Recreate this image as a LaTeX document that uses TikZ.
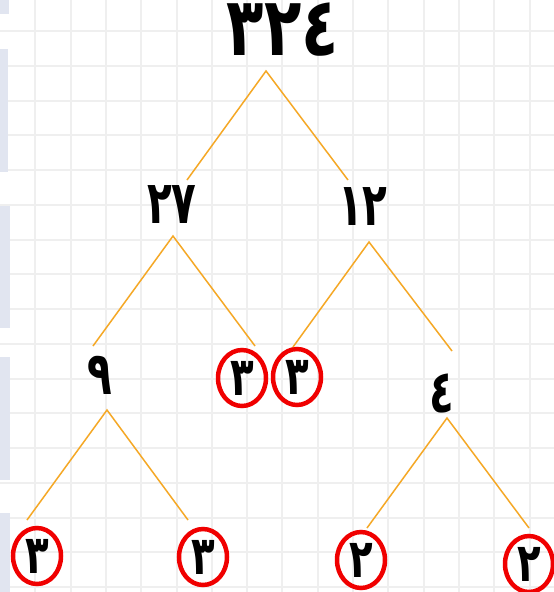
\documentclass[tikz,border=0pt]{standalone}
\usepackage{fontspec}
\usepackage{graphicx}
\usetikzlibrary{shapes.geometric}
\newfontfamily\arabicfont[Script=Arabic]{DejaVu Sans}
\definecolor{gridgray}{RGB}{239,239,239}
\definecolor{stripblue}{RGB}{225,229,240}
\definecolor{branch}{RGB}{245,168,38}
\definecolor{ringred}{RGB}{240,0,0}
\newcommand{\bigdig}[1]{\scalebox{0.9}[1.2]{#1}}
\newcommand{\middig}[1]{\scalebox{0.88}[1.3]{#1}}
\newcommand{\ringdig}[1]{\scalebox{0.88}[1.22]{#1}}
\tikzset{
  gridline/.style={draw=gridgray,line width=2pt},
  branchline/.style={draw=branch,line width=1.5pt},
  bignum/.style={inner sep=0pt,font=\arabicfont\bfseries\fontsize{68}{68}\selectfont},
  num/.style={inner sep=0pt,font=\arabicfont\bfseries\fontsize{46}{46}\selectfont},
  ring/.style={ellipse,draw=ringred,line width=4.5pt,minimum width=48pt,minimum height=56pt,inner sep=0pt,font=\arabicfont\bfseries\fontsize{44}{44}\selectfont}
}
\begin{document}
\begin{tikzpicture}[x=1pt,y=-1pt]
\useasboundingbox (0,0) rectangle (554,592);
\fill[white] (0,0) rectangle (554,592);
\foreach \i in {1,...,15} \draw[gridline] (35.3*\i,0) -- (35.3*\i,592);
\foreach \j in {0,...,16} \draw[gridline] (0,31+34.75*\j) -- (554,31+34.75*\j);
\fill[stripblue] (0,0) rectangle (9,14);
\fill[stripblue] (0,49) rectangle (8,172);
\fill[stripblue] (0,206) rectangle (10,328);
\fill[stripblue] (0,357) rectangle (10,480);
\fill[stripblue] (0,513) rectangle (10,592);
% nodes
\node[bignum] (n324) at (283,30) {\bigdig{٣٢٤}};
\node[num] (n27) at (172,205) {\middig{٢٧}};
\node[num] (n12) at (363,207) {\middig{١٢}};
\node[num] (n9) at (100,375) {\middig{٩}};
\node[num] (n4) at (442,393) {\middig{٤}};
\node[ring] (r3a) at (242,378) {\ringdig{٣}};
\node[ring] (r3b) at (297,377) {\ringdig{٣}};
\node[ring] (r3c) at (37,556) {\ringdig{٣}};
\node[ring] (r3d) at (203,557) {\ringdig{٣}};
\node[ring] (r2a) at (361,560) {\ringdig{٢}};
\node[ring] (r2b) at (529,564) {\ringdig{٢}};
% branch points
\coordinate (a0) at (266,71);
\coordinate (a0l) at (187,180);
\coordinate (a0r) at (348,180);
\coordinate (a1) at (173,236);
\coordinate (a1l) at (93,346);
\coordinate (a1r) at (255,346);
\coordinate (a2) at (369,242);
\coordinate (a2l) at (293,347);
\coordinate (a2r) at (452,351);
\coordinate (a3) at (107,410);
\coordinate (a3l) at (27,520);
\coordinate (a3r) at (188,520);
\coordinate (a4) at (447,418);
\coordinate (a4l) at (367,528);
\coordinate (a4r) at (529,528);
\draw[branchline] (a0l) -- (a0) -- (a0r);
\draw[branchline] (a1l) -- (a1) -- (a1r);
\draw[branchline] (a2l) -- (a2) -- (a2r);
\draw[branchline] (a3l) -- (a3) -- (a3r);
\draw[branchline] (a4l) -- (a4) -- (a4r);
\end{tikzpicture}
\end{document}
